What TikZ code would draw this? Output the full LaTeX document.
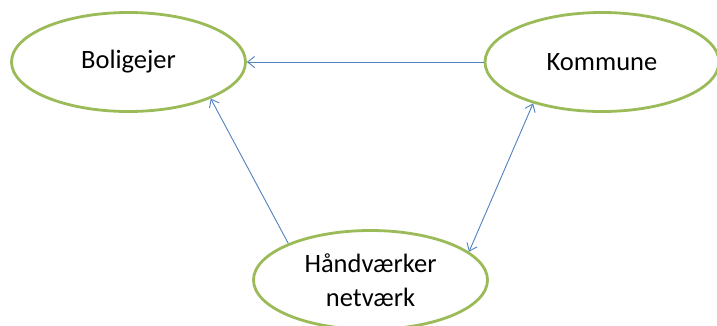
\documentclass[tikz,border=0pt]{standalone}
\usepackage{fontspec}
\setmainfont{Carlito}
\usepackage{xcolor}
\usetikzlibrary{shapes.geometric,arrows.meta}

\definecolor{ringgreen}{RGB}{155,187,89}
\definecolor{linkblue}{RGB}{79,129,189}

\begin{document}
\begin{tikzpicture}[x=1pt,y=-1pt]
	\tikzset{party/.style={ellipse,draw=ringgreen,line width=2.8pt,minimum width=234pt,minimum height=99pt,inner sep=0pt,align=center,font=\fontsize{26.5}{34}\selectfont}}
	\tikzset{link/.style={draw=linkblue,line width=0.9pt,-{Straight Barb[length=7pt,width=11pt]}}}
	\useasboundingbox (0,0) rectangle (717,325);
	\clip (0,0) rectangle (717,325);
	\node [party] (bolig) at (128.5,62) {Boligejer};
	\node [party] (kommune) at (602,62) {Kommune};
	\node [party] (haand) at (370.5,280) {Håndværker\\netværk};
	\draw [link] (kommune.west) -- (bolig.east);
	\draw [link] (haand.156) -- (bolig.-24);
	\draw [link,{Straight Barb[length=7pt,width=11pt]}-{Straight Barb[length=7pt,width=11pt]}] (haand.16) -- (kommune.211);
\end{tikzpicture}
\end{document}
